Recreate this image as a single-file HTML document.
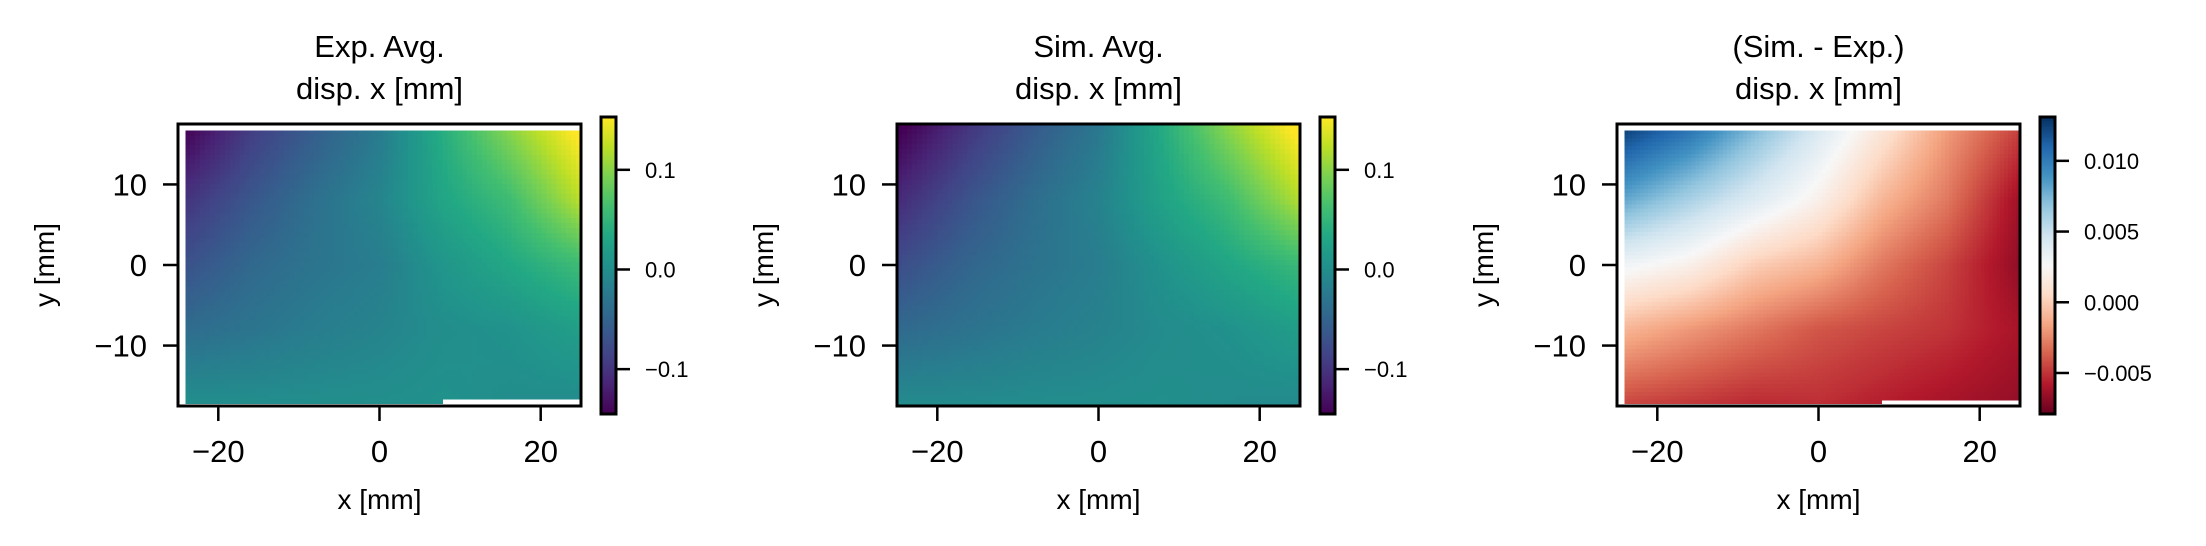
<!DOCTYPE html>
<html><head><meta charset="utf-8">
<style>
html,body{margin:0;padding:0;background:#fff;}
svg{display:block;font-family:"Liberation Sans",Arial,sans-serif;}
</style></head>
<body>
<svg id="fig" width="2206" height="546" viewBox="0 0 2206 546" xmlns="http://www.w3.org/2000/svg"></svg>
<script>
// ---- data (grid of values sampled at these coordinates) ----
const gridX = [-24, -16, -8, 0, 8, 16, 24];
const gridY = [16, 8, 0, -8, -16];
const expValues = [
  [-0.140, -0.090, -0.055, -0.022, 0.040, 0.095, 0.150],
  [-0.100, -0.065, -0.035, -0.011, 0.030, 0.058, 0.115],
  [-0.070, -0.045, -0.030, -0.020, 0.010, 0.032, 0.055],
  [-0.040, -0.030, -0.020, -0.012, 0.000, 0.005, 0.020],
  [-0.004, -0.004, -0.002, 0.000, 0.004, 0.000, 0.000]
];
const simValues = [
  [-0.140, -0.095, -0.058, -0.025, 0.036, 0.095, 0.150],
  [-0.105, -0.068, -0.038, -0.014, 0.026, 0.058, 0.112],
  [-0.073, -0.048, -0.032, -0.020, 0.006, 0.030, 0.052],
  [-0.042, -0.032, -0.022, -0.014, -0.003, 0.004, 0.018],
  [-0.008, -0.007, -0.004, -0.002, 0.001, -0.002, -0.002]
];
const diffValues = [
  [0.012, 0.010, 0.007, 0.004, 0.001, -0.002, -0.0045],
  [0.008, 0.006, 0.004, 0.002, -0.001, -0.003, -0.006],
  [0.003, 0.002, 0.000, -0.001, -0.003, -0.0045, -0.0065],
  [-0.001, -0.002, -0.003, -0.004, -0.0045, -0.005, -0.006],
  [-0.004, -0.0045, -0.005, -0.005, -0.0055, -0.006, -0.0065]
];
const xTicks = [-20, 0, 20];
const yTicks = [10, 0, -10];
const cbTicksAvg = [0.1, 0.0, -0.1];
const cbTickLabelsAvg = ["0.1", "0.0", "\u22120.1"];
const cbTicksDiff = [0.010, 0.005, 0.000, -0.005];
const cbTickLabelsDiff = ["0.010", "0.005", "0.000", "\u22120.005"];
const titles1 = ["Exp. Avg.", "Sim. Avg.", "(Sim. - Exp.)"];

// ---- colormaps ----
const VIR = ["#440154","#482475","#414487","#355f8d","#2a788e","#21918c","#22a884","#44bf70","#7ad151","#bddf26","#fde725"];
const RDBU = ["#67001f","#b2182b","#d6604d","#f4a582","#fddbc7","#f7f7f7","#d1e5f0","#92c5de","#4393c3","#2166ac","#053061"];
function hex(c){return [parseInt(c.slice(1,3),16),parseInt(c.slice(3,5),16),parseInt(c.slice(5,7),16)];}
function cmap(stops,t){
  t=Math.max(0,Math.min(1,t));
  const n=stops.length-1, f=t*n, i=Math.min(n-1,Math.floor(f)), r=f-i;
  const a=hex(stops[i]), b=hex(stops[i+1]);
  return "rgb("+a.map((v,k)=>Math.round(v+(b[k]-v)*r)).join(",")+")";
}
function interp(vals,x,y){
  let i=0; while(i<gridX.length-2 && x>gridX[i+1]) i++;
  let j=0; while(j<gridY.length-2 && y<gridY[j+1]) j++;
  let tx=(x-gridX[i])/(gridX[i+1]-gridX[i]); tx=Math.max(-0.2,Math.min(1.2,tx));
  let ty=(gridY[j]-y)/(gridY[j]-gridY[j+1]); ty=Math.max(-0.2,Math.min(1.2,ty));
  const a=vals[j][i],b=vals[j][i+1],c=vals[j+1][i],d=vals[j+1][i+1];
  return (a*(1-tx)+b*tx)*(1-ty)+(c*(1-tx)+d*tx)*ty;
}

const NS="http://www.w3.org/2000/svg";
const svg=document.getElementById('fig');
function mk(tag,attrs,parent){const e=document.createElementNS(NS,tag);for(const k in attrs)e.setAttribute(k,attrs[k]);(parent||svg).appendChild(e);return e;}

const panels=[
  {L:178, vals:expValues, stops:VIR, vmin:-0.145, vmax:0.153, ext:[-24.1,25,-17.2,16.7], gap:true, cbT:cbTicksAvg, cbL:cbTickLabelsAvg, name:"exp-avg"},
  {L:897, vals:simValues, stops:VIR, vmin:-0.145, vmax:0.153, ext:[-25,25,-17.5,17.5], gap:false, cbT:cbTicksAvg, cbL:cbTickLabelsAvg, name:"sim-avg"},
  {L:1617, vals:diffValues, stops:RDBU, vmin:-0.0079, vmax:0.0131, ext:[-24.1,25,-17.2,16.7], gap:true, cbT:cbTicksDiff, cbL:cbTickLabelsDiff, name:"difference"}
];
const T=124,W=403,H=282,XMIN=-25,XMAX=25,YMIN=-17.5,YMAX=17.5;
const CBT=117,CBH=297;

panels.forEach((p,pi)=>{
  const g=mk('g',{});
  
  
  const sx=x=>p.L+(x-XMIN)/(XMAX-XMIN)*W;
  const sy=y=>T+(YMAX-y)/(YMAX-YMIN)*H;
  const hm=mk('g',{'shape-rendering':'crispEdges'},g);
  
  
  const NX=pi===2?100:80, NY=pi===2?70:56;
  const [x0,x1,y0,y1]=p.ext;
  const dx=(x1-x0)/NX, dy=(y1-y0)/NY;
  for(let r=0;r<NY;r++){
    for(let c=0;c<NX;c++){
      const xc=x0+(c+0.5)*dx, yc=y1-(r+0.5)*dy;
      if(p.gap && yc<-16.7 && xc>7.6) continue;
      const v=interp(p.vals,xc,yc);
      const X=sx(x0+c*dx), Y=sy(y1-r*dy);
      const cell=mk('rect',{x:X.toFixed(2),y:Y.toFixed(2),width:(sx(x0+(c+1)*dx)-X+0.6).toFixed(2),height:(sy(y1-(r+1)*dy)-Y+0.6).toFixed(2),fill:cmap(p.stops,(v-p.vmin)/(p.vmax-p.vmin))},hm);
      
      
    }
  }
  const fr=mk('rect',{x:p.L,y:T,width:W,height:H,fill:'none',stroke:'#000','stroke-width':3},g);
  
  
  xTicks.forEach(t=>{
    const X=sx(t);
    mk('line',{x1:X,x2:X,y1:T+H,y2:T+H+15,stroke:'#000','stroke-width':2.5},g);
    const tx=mk('text',{x:X,y:462,'font-size':31,'text-anchor':'middle'},g);
    tx.textContent=(t<0?'\u2212':'')+Math.abs(t);
    
    
  });
  yTicks.forEach(t=>{
    const Y=sy(t);
    mk('line',{x1:p.L-15,x2:p.L,y1:Y,y2:Y,stroke:'#000','stroke-width':2.5},g);
    const ty=mk('text',{x:p.L-31,y:Y+11,'font-size':31,'text-anchor':'end'},g);
    ty.textContent=(t<0?'\u2212':'')+Math.abs(t);
    
    
  });
  const xl=mk('text',{x:p.L+W/2,y:509,'font-size':28,'text-anchor':'middle'},g);
  xl.textContent='x [mm]';
  
  
  const yl=mk('text',{x:0,y:0,'font-size':28,'text-anchor':'middle',transform:'translate('+(p.L-124)+','+(T+H/2)+') rotate(-90)'},g);
  yl.textContent='y [mm]';
  
  
  const t1=mk('text',{x:p.L+W/2,y:57,'font-size':31,'text-anchor':'middle'},g);
  t1.textContent=titles1[pi];
  
  
  const t2=mk('text',{x:p.L+W/2,y:99,'font-size':31,'text-anchor':'middle'},g);
  t2.textContent='disp. x [mm]';
  
  
  const cbX=p.L+W+20, cbW=15;
  const cb=mk('g',{'shape-rendering':'crispEdges'},g);
  
  
  const NS2=150;
  for(let k=0;k<NS2;k++){
    const t=1-(k+0.5)/NS2;
    mk('rect',{x:cbX,y:(CBT+k*CBH/NS2).toFixed(2),width:cbW,height:(CBH/NS2+0.6).toFixed(2),fill:cmap(p.stops,t)},cb);
  }
  mk('rect',{x:cbX,y:CBT,width:cbW,height:CBH,fill:'none',stroke:'#000','stroke-width':3},g);
  const cy=v=>CBT+(p.vmax-v)/(p.vmax-p.vmin)*CBH;
  p.cbT.forEach((v,i)=>{
    const Y=cy(v);
    mk('line',{x1:cbX+cbW,x2:cbX+cbW+14,y1:Y,y2:Y,stroke:'#000','stroke-width':2.5},g);
    const l=mk('text',{x:cbX+cbW+29,y:Y+8,'font-size':22},g);
    l.textContent=p.cbL[i];
    
    
  });
});
</script>
</body></html>
